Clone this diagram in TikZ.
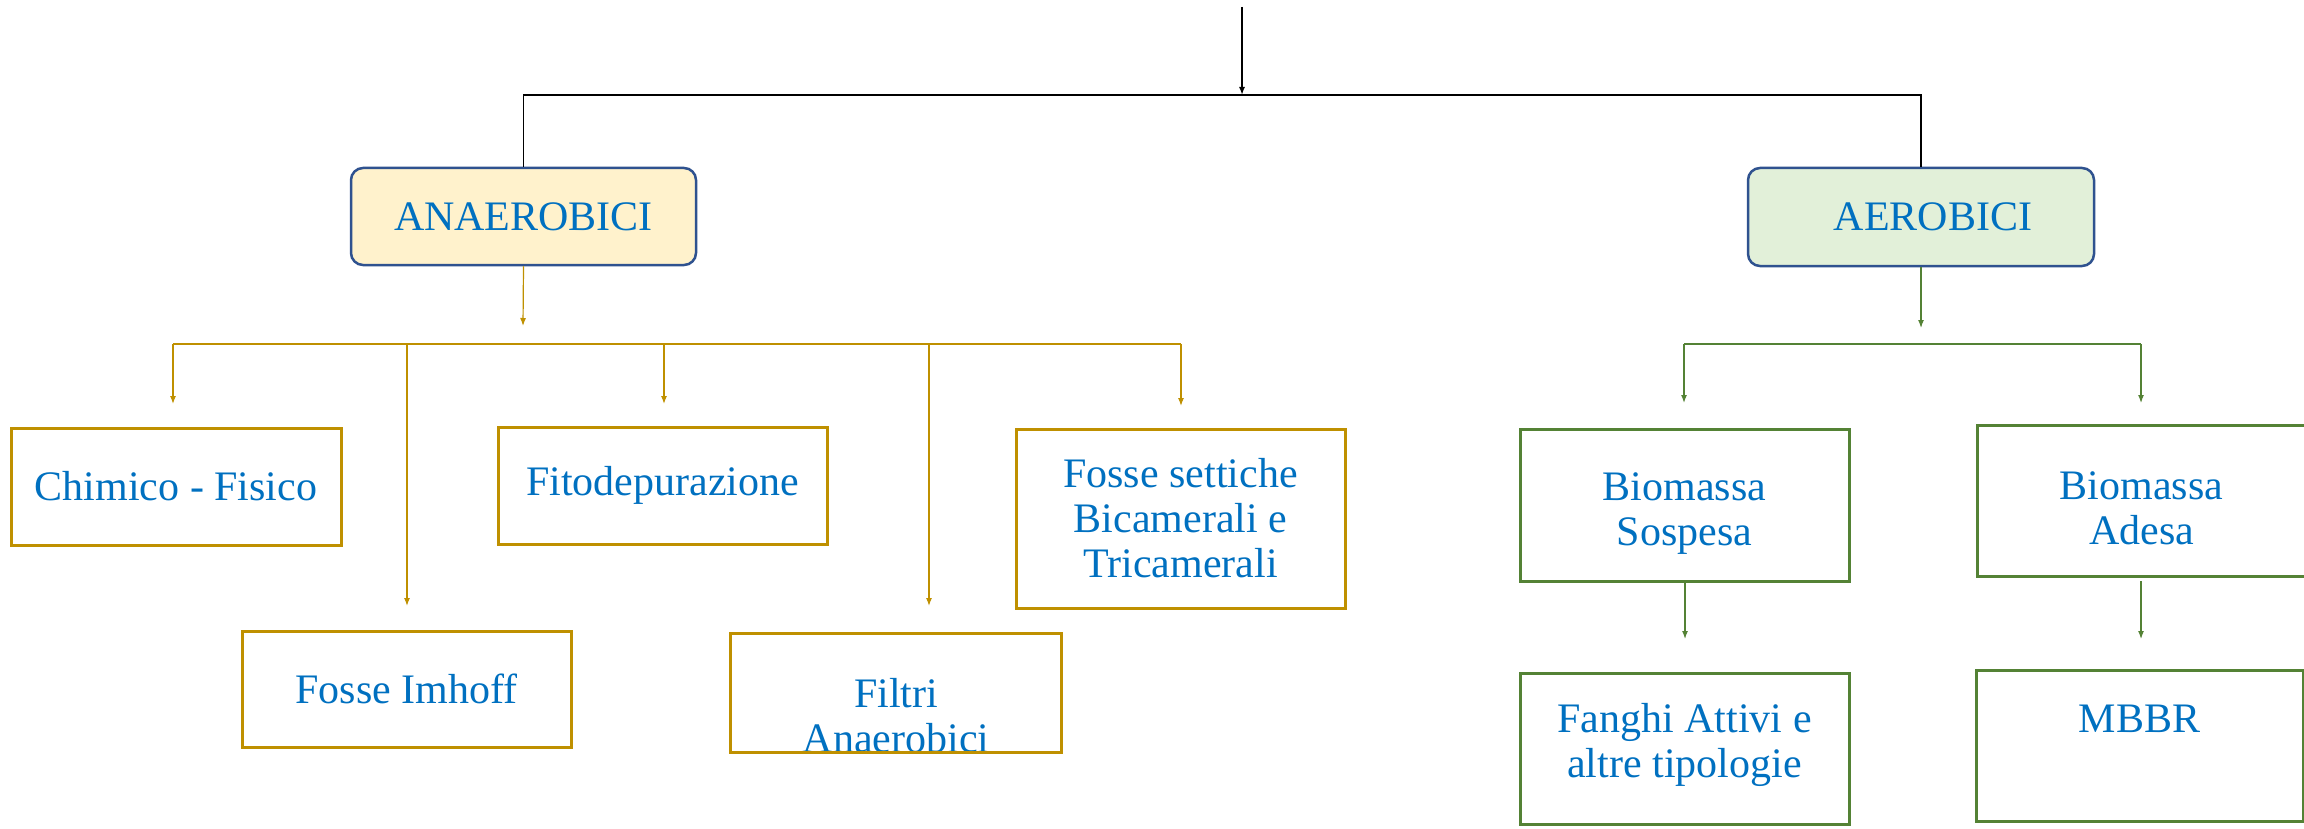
\documentclass[tikz,border=0pt]{standalone}
\usepackage{fontspec}
\setmainfont{Liberation Serif}
\usetikzlibrary{arrows.meta}
\definecolor{txtblue}{HTML}{0070C0}
\definecolor{gold}{HTML}{BF9000}
\definecolor{grn}{HTML}{548235}
\definecolor{bordblue}{HTML}{2F528F}
\definecolor{fillyel}{HTML}{FFF2CC}
\definecolor{fillgrn}{HTML}{E2F0D9}
\tikzset{
  lbl/.style={text=txtblue, font=\fontsize{42}{45}\selectfont, align=center, inner sep=0pt},
  roundbox/.style={lbl, draw=bordblue, line width=2.5pt, rounded corners=12pt},
  goldbox/.style={lbl, draw=gold, line width=3pt},
  grnbox/.style={lbl, draw=grn, line width=3pt},
  tip/.style={-{Latex[length=8pt,width=6pt]}},
  blk/.style={black, line width=1.5pt},
  gbar/.style={gold, line width=2pt},
  gline/.style={gold, line width=1.2pt, tip},
  grline/.style={grn, line width=1.2pt, tip},
}
\begin{document}
\begin{tikzpicture}[x=1pt,y=-1pt]
\useasboundingbox (0,0) rectangle (2304,829);
% top level
\coordinate (top) at (1242,7);
\coordinate (junc) at (1242,95);
\node[roundbox, fill=fillyel, minimum width=345pt, minimum height=97pt] (ana) at (523.5,216.5) {ANAEROBICI};
\node[roundbox, fill=fillgrn, minimum width=346pt, minimum height=98pt] (aer) at (1921,217) {\hspace*{24pt}AEROBICI};
\draw[blk, tip] (top) -- (junc);
\draw[blk] (ana.north) -- (ana.north |- junc) -- (aer.north |- junc) -- (aer.north);

% anaerobic branch
\node[goldbox, minimum width=330pt, minimum height=117pt] (chim) at (176,486.5) {Chimico - Fisico};
\node[goldbox, minimum width=329pt, minimum height=117pt] (fito) at (662.5,485.5) {Fitodepurazione};
\node[goldbox, minimum width=329pt, minimum height=179pt] (fsett) at (1180.5,518.5) {Fosse settiche\\Bicamerali e\\Tricamerali};
\node[goldbox, minimum width=329pt, minimum height=116pt] (imh) at (406.5,689) {Fosse Imhoff};
\node[goldbox, draw=none, minimum width=328pt, minimum height=116pt] (filt) at (896,693) {};
\begin{scope}
\clip (filt.south west) rectangle (filt.north east);
\node[lbl] (filttxt) at (896,716) {Filtri\\Anaerobici};
\end{scope}
\draw[draw=gold, line width=3pt] (filt.south west) rectangle (filt.north east);

\coordinate (anaend) at (523,326);
\coordinate (gl) at (173,344);
\coordinate (gr) at (1181,344);
\draw[gline] (ana.south) -- (anaend);
\draw[gbar] (gl) -- (gr);
\coordinate (t1) at (173,404);
\coordinate (t2) at (407,606);
\coordinate (t3) at (664,404);
\coordinate (t4) at (929,606);
\coordinate (t5) at (1181,406);
\draw[gline] (t1 |- gl) -- (t1);
\draw[gline] (t2 |- gl) -- (t2);
\draw[gline] (t3 |- gl) -- (t3);
\draw[gline] (t4 |- gl) -- (t4);
\draw[gline] (t5 |- gl) -- (t5);

% aerobic branch
\node[grnbox, minimum width=329pt, minimum height=152pt] (sosp) at (1684.5,505) {};
\node[lbl] (sosptxt) at (1684.5,514) {Biomassa\\Sospesa};
\node[grnbox, minimum width=329pt, minimum height=151pt] (ades) at (2141.5,500.5) {};
\node[lbl] (adestxt) at (2141.5,508) {Biomassa\\Adesa};
\node[grnbox, minimum width=329pt, minimum height=151pt] (fang) at (1684.5,748.5) {};
\node[lbl] (fangtxt) at (1684.5,745) {Fanghi Attivi e\\altre tipologie};
\node[grnbox, minimum width=327pt, minimum height=151pt] (mbbr) at (2139.5,745.5) {};
\node[lbl] (mbbrtxt) at (2139.5,719) {MBBR};

\coordinate (aerend) at (1921,328);
\coordinate (rl) at (1684,344);
\coordinate (rr) at (2141,344);
\draw[grline] (aer.south) -- (aerend);
\draw[grn, line width=1.2pt] (rl) -- (rr);
\coordinate (u1) at (1684,403);
\coordinate (u2) at (2141,403);
\draw[grline] (rl) -- (u1);
\draw[grline] (rr) -- (u2);
\coordinate (v1) at (1685,639);
\coordinate (v2s) at (2141,581);
\coordinate (v2) at (2141,639);
\draw[grline] (sosp.south -| v1) -- (v1);
\draw[grline] (v2s) -- (v2);
\end{tikzpicture}
\end{document}
